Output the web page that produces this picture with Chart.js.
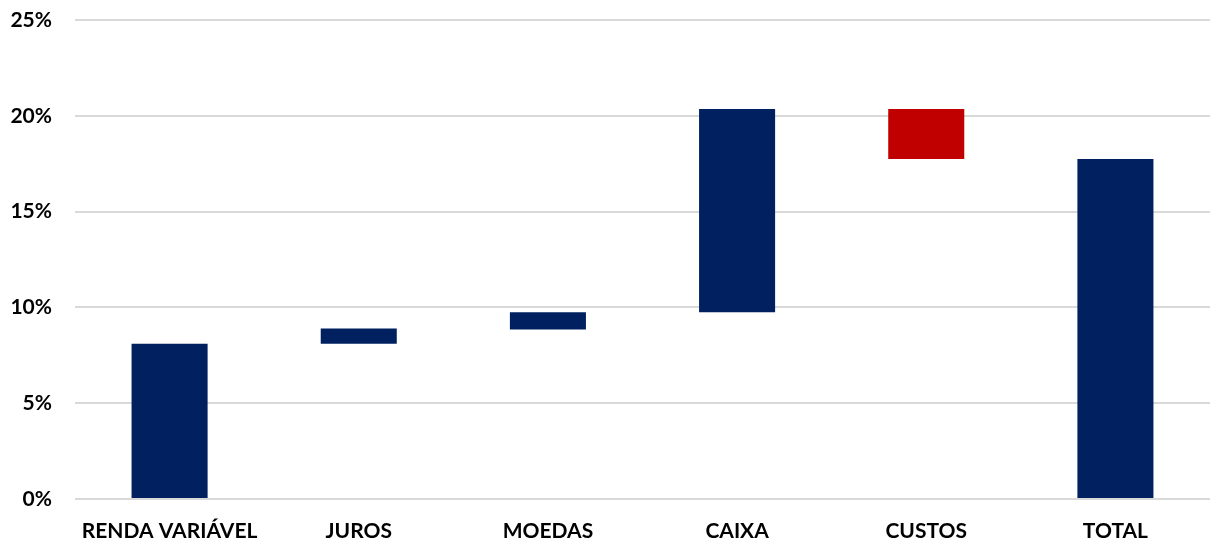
<!DOCTYPE html>
<html lang="pt">
<head>
    <meta charset="UTF-8">
    <title>Atribuição de desempenho</title>
    <script src="https://cdn.jsdelivr.net/npm/chart.js"></script>
    <style>
        html, body {
            margin: 0;
            padding: 0;
            background: #ffffff;
        }
        #wrap {
            width: 1211px;
            height: 545px;
        }
    </style>
</head>
<body>
    <div id="wrap">
        <canvas id="waterfall"></canvas>
    </div>

    <script>
        // Waterfall data (percent)
        const categories = ['RENDA VARIÁVEL', 'JUROS', 'MOEDAS', 'CAIXA', 'CUSTOS', 'TOTAL'];
        const barStart = [0, 8.1, 8.85, 9.75, 17.75, 0];
        const barEnd = [8.1, 8.9, 9.75, 20.35, 20.35, 17.75];
        const barColors = ['#002060', '#002060', '#002060', '#002060', '#C00000', '#002060'];
        const yTicks = [0, 5, 10, 15, 20, 25];

        const ranges = categories.map((c, i) => [barStart[i], barEnd[i]]);

        const fontFamily = 'Lato, "Open Sans", sans-serif';

        new Chart(document.getElementById('waterfall'), {
            type: 'bar',
            data: {
                labels: categories,
                datasets: [{
                    data: ranges,
                    backgroundColor: barColors,
                    borderWidth: 0,
                    borderSkipped: false,
                    barPercentage: 0.402,
                    categoryPercentage: 1
                }]
            },
            options: {
                responsive: true,
                maintainAspectRatio: false,
                animation: false,
                layout: {
                    padding: { top: 20, right: 1, left: 0, bottom: 0 }
                },
                plugins: {
                    legend: { display: false },
                    tooltip: { enabled: false }
                },
                scales: {
                    x: {
                        grid: { display: false, drawTicks: false },
                        border: { display: false },
                        ticks: {
                            color: '#000000',
                            padding: 20,
                            font: { family: fontFamily, size: 21, weight: 'bold' }
                        },
                        afterFit: scale => { scale.height = 46; }
                    },
                    y: {
                        min: 0,
                        max: 25,
                        afterBuildTicks: scale => {
                            scale.ticks = yTicks.map(v => ({ value: v }));
                        },
                        grid: { color: '#D9D9D9', lineWidth: 2, drawTicks: false },
                        border: { display: false },
                        ticks: {
                            color: '#000000',
                            padding: 23,
                            font: { family: fontFamily, size: 21, weight: 'bold' },
                            callback: v => v + '%'
                        },
                        afterFit: scale => {
                            // keep the label gap without pushing the plot down
                            scale.width = 75;
                            scale.paddingTop = 0;
                            scale.paddingBottom = 0;
                        }
                    }
                }
            }
        });
    </script>
</body>
</html>
